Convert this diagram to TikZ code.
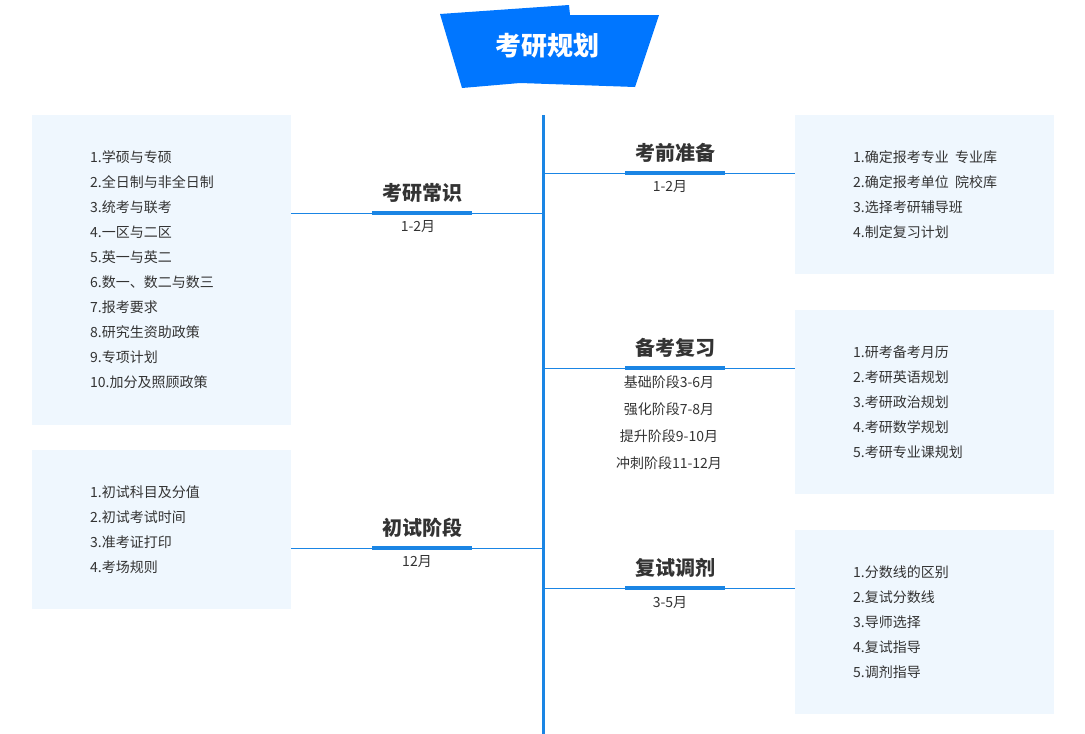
\documentclass[tikz,border=0pt]{standalone}
\usepackage{fontspec}
\usepackage{xcolor}
\newfontfamily\cjk{Noto Sans CJK SC}
\definecolor{titleblue}{RGB}{0,118,255}
\definecolor{lineblue}{RGB}{26,133,228}
\definecolor{boxblue}{RGB}{239,247,254}
\definecolor{textgray}{RGB}{51,51,51}

\begin{document}
\begin{tikzpicture}[x=1pt, y=-1pt]
		\tikzstyle{every node} = [font=\cjk, text=textgray, inner sep=0pt]
		\tikzstyle{box} = [fill=boxblue, anchor=north west, minimum width=259]
		\tikzstyle{item} = [anchor=west, font=\cjk\fontsize{14}{16}\selectfont]
		\tikzstyle{head} = [font=\cjk\bfseries\fontsize{20}{24}\selectfont]
		\tikzstyle{sub} = [font=\cjk\fontsize{14}{16}\selectfont]
		\tikzstyle{bar} = [fill=lineblue, minimum width=100, minimum height=4]
		\tikzstyle{branch} = [draw=lineblue, line width=1pt]
		\useasboundingbox (0,0) rectangle (1085,734);
		% title
		\fill[titleblue] (440,14) -- (569,5) -- (570,15) -- (659,15) -- (635,87) -- (520,83) -- (462,88) -- cycle;
		\node[font=\cjk\bfseries\fontsize{26}{30}\selectfont, text=white] (title) at (547,46) {考研规划};
		% spine
		\coordinate (spine) at (543,115);
		\coordinate (spineend) at (543,734);
		\draw[lineblue, line width=3pt] (spine) -- (spineend);
		% boxes
		\node[box, minimum height=310] (kcbox) at (32,115) {};
		\node[box, minimum height=159] (csbox) at (32,450) {};
		\node[box, minimum height=159] (kqbox) at (795,115) {};
		\node[box, minimum height=184] (bkbox) at (795,310) {};
		\node[box, minimum height=184] (fsbox) at (795,530) {};
		% left branches
		\node[head] (kchead) at (422,193) {考研常识};
		\node[bar] (kcbar) at (422,213) {};
		\draw[branch] (kcbox.east |- kcbar) -- (spine |- kcbar);
		\node[bar] at (kcbar) {};
		\node[sub] (kcsub) at (418,227) {1-2月};
		\node[head] (cshead) at (422,528) {初试阶段};
		\node[bar] (csbar) at (422,548) {};
		\draw[branch] (csbox.east |- csbar) -- (spine |- csbar);
		\node[bar] at (csbar) {};
		\node[sub] (cssub) at (417,562) {12月};
		% right branches
		\node[head] (kqhead) at (675,153) {考前准备};
		\node[bar] (kqbar) at (675,173) {};
		\draw[branch] (spine |- kqbar) -- (kqbox.west |- kqbar);
		\node[bar] at (kqbar) {};
		\node[sub] (kqsub) at (670,187) {1-2月};
		\node[head] (bkhead) at (675,348) {备考复习};
		\node[bar] (bkbar) at (675,368) {};
		\draw[branch] (spine |- bkbar) -- (bkbox.west |- bkbar);
		\node[bar] at (bkbar) {};
		\foreach \t [count=\i] in {基础阶段3-6月, 强化阶段7-8月, 提升阶段9-10月, 冲刺阶段11-12月}
			\node[sub] (bksub\i) at (669,355+27*\i) {\t};
		\node[head] (fshead) at (675,568) {复试调剂};
		\node[bar] (fsbar) at (675,588) {};
		\draw[branch] (spine |- fsbar) -- (fsbox.west |- fsbar);
		\node[bar] at (fsbar) {};
		\node[sub] (fssub) at (670,603) {3-5月};
		% box items
		\foreach \t [count=\i] in {1.学硕与专硕, 2.全日制与非全日制, 3.统考与联考, 4.一区与二区, 5.英一与英二, 6.数一、数二与数三, 7.报考要求, 8.研究生资助政策, 9.专项计划, 10.加分及照顾政策}
			\node[item] (kc\i) at (90,132+25*\i) {\t};
		\foreach \t [count=\i] in {1.初试科目及分值, 2.初试考试时间, 3.准考证打印, 4.考场规则}
			\node[item] (cs\i) at (90,467+25*\i) {\t};
		\foreach \t [count=\i] in {1.确定报考专业\ \ 专业库, 2.确定报考单位\ \ 院校库, 3.选择考研辅导班, 4.制定复习计划}
			\node[item] (kq\i) at (853,132+25*\i) {\t};
		\foreach \t [count=\i] in {1.研考备考月历, 2.考研英语规划, 3.考研政治规划, 4.考研数学规划, 5.考研专业课规划}
			\node[item] (bk\i) at (853,327+25*\i) {\t};
		\foreach \t [count=\i] in {1.分数线的区别, 2.复试分数线, 3.导师选择, 4.复试指导, 5.调剂指导}
			\node[item] (fs\i) at (853,547+25*\i) {\t};
	\end{tikzpicture}
\end{document}
